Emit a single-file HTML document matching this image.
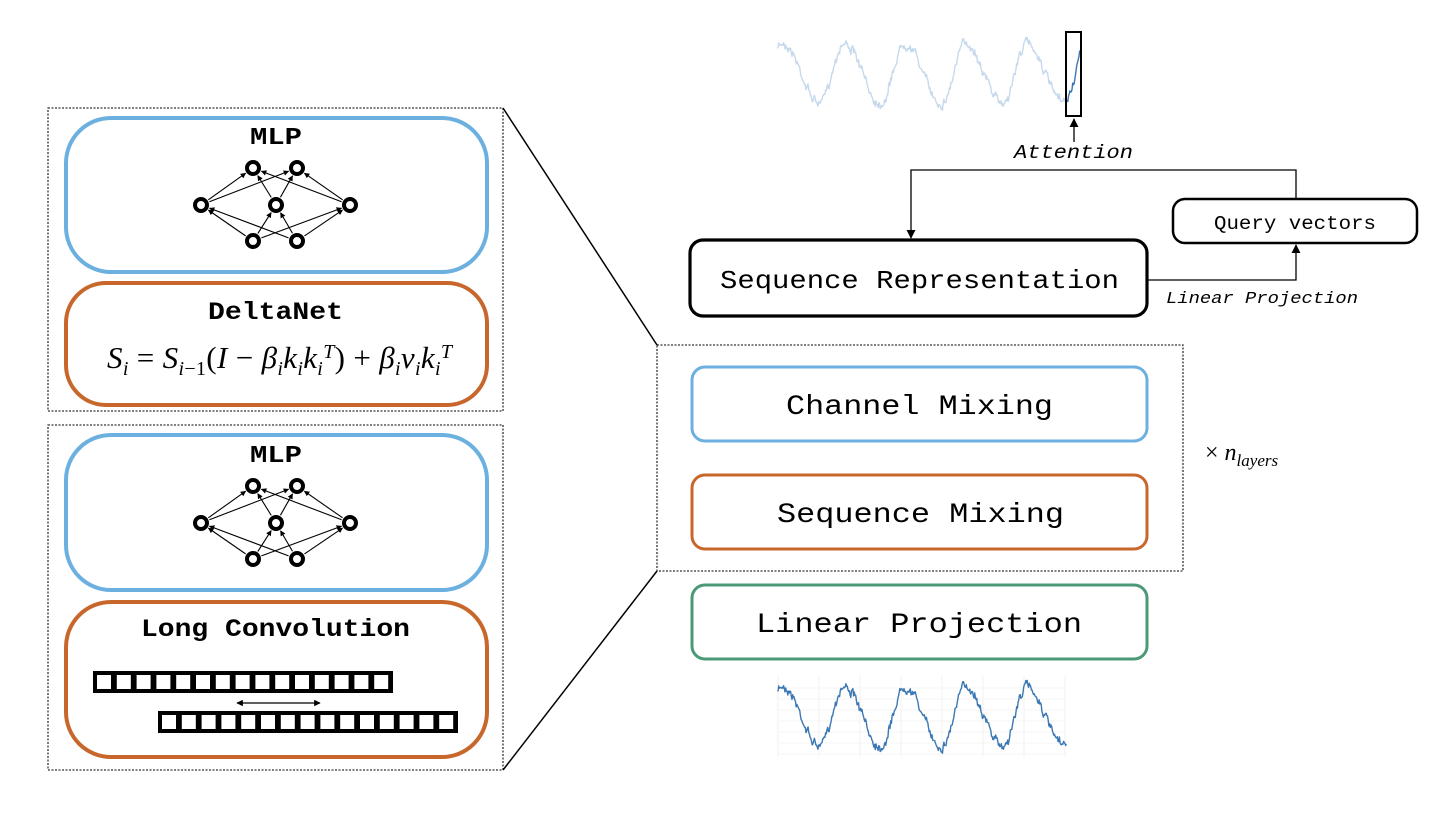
<!DOCTYPE html>
<html><head><meta charset="utf-8"><style>
html,body{margin:0;padding:0;background:#fff;}
svg{display:block;}
.mono{font-family:"Liberation Mono",monospace;}
</style></head><body>
<svg id="s" width="1441" height="813" viewBox="0 0 1441 813" xmlns="http://www.w3.org/2000/svg">
<defs>
<marker id="ar" viewBox="0 0 10 10" refX="9" refY="5" markerWidth="7" markerHeight="7" orient="auto-start-reverse"><path d="M0,0 L10,5 L0,10 z" fill="#000"/></marker>
<marker id="as" viewBox="0 0 10 10" refX="9" refY="5" markerWidth="5" markerHeight="5" orient="auto-start-reverse"><path d="M0,0 L10,5 L0,10 z" fill="#000"/></marker>
</defs>
<rect x="48" y="108" width="455" height="303" fill="none" stroke="#333" stroke-width="1.3" stroke-dasharray="2,1.5"/>
<rect x="48" y="425" width="455" height="345" fill="none" stroke="#333" stroke-width="1.3" stroke-dasharray="2,1.5"/>
<rect x="657" y="345" width="526" height="226" fill="none" stroke="#333" stroke-width="1.3" stroke-dasharray="2,1.5"/>
<line x1="503" y1="108" x2="657" y2="345" stroke="#000" stroke-width="1.5"/>
<line x1="503" y1="770" x2="657" y2="571" stroke="#000" stroke-width="1.5"/>

<rect x="66" y="118" width="421" height="154" rx="45" fill="none" stroke="#6cb0e0" stroke-width="4"/>
<rect x="66" y="283" width="421" height="122" rx="40" fill="none" stroke="#c8672b" stroke-width="4"/>
<rect x="66" y="435" width="421" height="155" rx="45" fill="none" stroke="#6cb0e0" stroke-width="4"/>
<rect x="66" y="602" width="421" height="155" rx="45" fill="none" stroke="#c8672b" stroke-width="4"/>

<text x="250" y="144" class="mono" font-weight="bold" font-size="24" textLength="52" lengthAdjust="spacingAndGlyphs">MLP</text>
<text x="250" y="462" class="mono" font-weight="bold" font-size="24" textLength="52" lengthAdjust="spacingAndGlyphs">MLP</text>
<text x="208" y="319" class="mono" font-weight="bold" font-size="25" textLength="135" lengthAdjust="spacingAndGlyphs">DeltaNet</text>
<text x="141" y="636" class="mono" font-weight="bold" font-size="25" textLength="269" lengthAdjust="spacingAndGlyphs">Long Convolution</text>
<text x="107" y="368" font-family="Liberation Serif,serif" font-size="31" font-style="italic" textLength="345">S<tspan font-size="20" dy="7">i</tspan><tspan dy="-7" font-style="normal"> = </tspan>S<tspan font-size="20" dy="7">i</tspan><tspan font-size="20" font-style="normal">−1</tspan><tspan dy="-7" font-style="normal">(</tspan>I<tspan font-style="normal"> − </tspan>β<tspan font-size="20" dy="7">i</tspan><tspan dy="-7">k</tspan><tspan font-size="20" dy="7">i</tspan><tspan dy="-7">k</tspan><tspan font-size="20" dy="7">i</tspan><tspan font-size="20" dy="-17">T</tspan><tspan dy="10" font-style="normal">) + </tspan>β<tspan font-size="20" dy="7">i</tspan><tspan dy="-7">v</tspan><tspan font-size="20" dy="7">i</tspan><tspan dy="-7">k</tspan><tspan font-size="20" dy="7">i</tspan><tspan font-size="20" dy="-17">T</tspan></text>

<g id="net"></g>
<g id="conv"></g>
<line x1="237" y1="703" x2="320" y2="703" stroke="#000" stroke-width="1.3" marker-start="url(#as)" marker-end="url(#as)"/>

<rect x="692" y="367" width="455" height="74" rx="13" fill="none" stroke="#6cb0e0" stroke-width="3"/>
<rect x="692" y="475" width="455" height="74" rx="13" fill="none" stroke="#c8672b" stroke-width="3"/>
<rect x="692" y="585" width="455" height="74" rx="13" fill="none" stroke="#4a9a78" stroke-width="3"/>
<text x="786" y="414" class="mono" font-size="28" textLength="267" lengthAdjust="spacingAndGlyphs">Channel Mixing</text>
<text x="777" y="522" class="mono" font-size="28" textLength="287" lengthAdjust="spacingAndGlyphs">Sequence Mixing</text>
<text x="756" y="632" class="mono" font-size="28" textLength="326" lengthAdjust="spacingAndGlyphs">Linear Projection</text>
<text x="1205" y="460" font-family="Liberation Serif,serif" font-size="24">× <tspan font-style="italic">n</tspan><tspan font-style="italic" font-size="17" dy="6">layers</tspan></text>

<rect x="690" y="240" width="457" height="76" rx="13" fill="none" stroke="#000" stroke-width="3.2"/>
<text x="720" y="288" class="mono" font-size="26" textLength="399" lengthAdjust="spacingAndGlyphs">Sequence Representation</text>
<rect x="1173" y="199" width="244" height="44" rx="12" fill="none" stroke="#000" stroke-width="2.5"/>
<text x="1214" y="229" class="mono" font-size="19" textLength="162" lengthAdjust="spacingAndGlyphs">Query vectors</text>
<polyline points="1296,199 1296,170 911,170 911,238" fill="none" stroke="#000" stroke-width="1.3" marker-end="url(#ar)"/>
<polyline points="1147,280 1296,280 1296,245" fill="none" stroke="#000" stroke-width="1.3" marker-end="url(#ar)"/>
<text x="1166" y="303" class="mono" font-size="17" font-style="italic" textLength="192" lengthAdjust="spacingAndGlyphs">Linear Projection</text>
<text x="1014" y="158" class="mono" font-size="19" font-style="italic" textLength="119" lengthAdjust="spacingAndGlyphs">Attention</text>
<line x1="1074" y1="142" x2="1074" y2="119" stroke="#000" stroke-width="1.3" marker-end="url(#ar)"/>

<g id="waves"></g>
<rect x="1066" y="32" width="15" height="84" fill="none" stroke="#000" stroke-width="2"/>
</svg>
<script>
var NS="http://www.w3.org/2000/svg";
function el(t,a,p){var e=document.createElementNS(NS,t);for(var k in a)e.setAttribute(k,a[k]);document.getElementById(p).appendChild(e);return e;}
[0,318].forEach(function(dy){
 var top=[[253,168],[297,168]],mid=[[201,205],[276,205],[350,205]],bot=[[253,241],[297,241]];
 function t(a){return a.map(function(p){return [p[0],p[1]+dy];});}
 top=t(top);mid=t(mid);bot=t(bot);
 function edges(from,to){from.forEach(function(f){to.forEach(function(g){
  var dx=g[0]-f[0],dyy=g[1]-f[1],L=Math.sqrt(dx*dx+dyy*dyy),r=9;
  el('line',{x1:f[0]+dx/L*r,y1:f[1]+dyy/L*r,x2:g[0]-dx/L*r,y2:g[1]-dyy/L*r,stroke:'#000','stroke-width':1.1,'marker-end':'url(#as)'},'net');});});}
 edges(mid,top);edges(bot,mid);
 top.concat(mid,bot).forEach(function(p){el('circle',{cx:p[0],cy:p[1],r:6,fill:'#fff',stroke:'#000','stroke-width':4},'net');});
});
function row(x0,y0){el('rect',{x:x0,y:y0,width:300,height:22,fill:'#000'},'conv');
 for(var i=0;i<15;i++)el('rect',{x:x0+4+i*19.8,y:y0+4,width:14,height:14,fill:'#fff'},'conv');}
row(93,671);row(158,711);
var seed=7;function rnd(){seed=(seed*16807)%2147483647;return seed/2147483647;}
var pts=[],n=0;
for(var x=778;x<=1080;x+=0.7){n+=(rnd()-0.5)*7; n*=0.75;
 var ph=((x-783)/61)%1; if(ph<0)ph+=1;
 // 1 at peak; slow fall then faster rise
 var base = ph<0.6 ? Math.cos(Math.PI*ph/0.6) : -Math.cos(Math.PI*(ph-0.6)/0.4);
 pts.push([x,base,n+(rnd()-0.5)*5]);}
function mk(off,amp,x0,x1,col,w){var s=pts.filter(function(p){return p[0]>=x0&&p[0]<=x1;}).map(function(p){return p[0].toFixed(1)+','+(off-p[1]*amp+p[2]).toFixed(1);}).join(' ');
 el('polyline',{points:s,fill:'none',stroke:col,'stroke-width':w,'stroke-linejoin':'round'},'waves');}
for(var gx=778;gx<1070;gx+=41)el('line',{x1:gx,y1:676,x2:gx,y2:757,stroke:'#f0f0f0','stroke-width':1},'waves');
for(var gy=688;gy<757;gy+=11)el('line',{x1:778,y1:gy,x2:1067,y2:gy,stroke:'#f5f5f5','stroke-width':1},'waves');
mk(716,30,778,1067,'#3c78b4',1.4);
mk(73,30,778,1066,'#c7d9ec',1.4);
mk(73,30,1066,1080,'#3c78b4',1.4);
</script>
</body></html>
